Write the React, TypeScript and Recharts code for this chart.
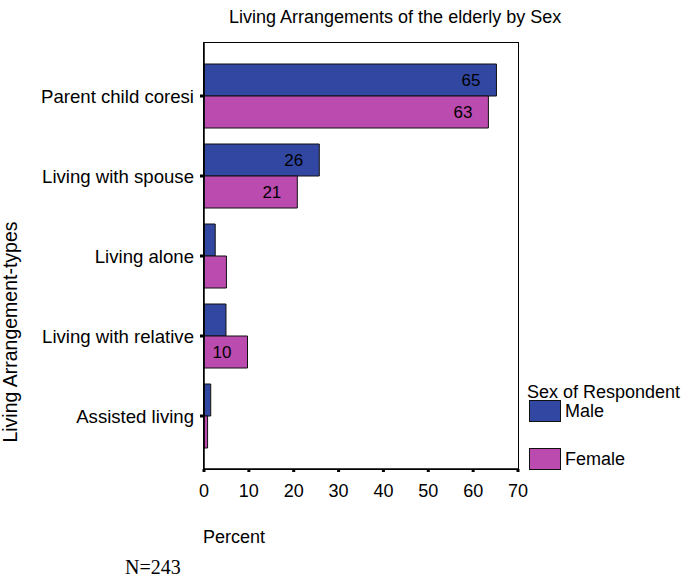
import { BarChart, Bar, XAxis, YAxis, LabelList, Label } from "recharts";

// living arrangements of the elderly, percent by sex
const categories = [
  "Parent child coresi",
  "Living with spouse",
  "Living alone",
  "Living with relative",
  "Assisted living",
];
const maleValues = [65.2, 25.7, 2.5, 4.9, 1.5];
const femaleValues = [63.4, 20.8, 5.0, 9.7, 0.8];
const maleLabels = ["65", "26", "", "", ""];
const femaleLabels = ["63", "21", "", "10", ""];
const percentTicks = [0, 10, 20, 30, 40, 50, 60, 70];

const MALE = "#3147a1";
const FEMALE = "#bb4bae";
const FONT = "'Liberation Sans', Arial, sans-serif";

const data = categories.map((name, i) => ({
  name,
  male: maleValues[i],
  female: femaleValues[i],
  maleLabel: maleLabels[i],
  femaleLabel: femaleLabels[i],
}));

export default function App() {
  return (
    <div style={{ position: "absolute", left: 0, top: 0, width: 686, height: 581, fontFamily: FONT }}>
      <div
        style={{
          position: "absolute",
          left: 229,
          top: 7,
          fontSize: 18,
          color: "#000",
          whiteSpace: "nowrap",
        }}
      >
        Living Arrangements of the elderly by Sex
      </div>

      <BarChart
        width={686}
        height={581}
        data={data}
        layout="vertical"
        margin={{ top: 43, right: 168, bottom: 82, left: 0 }}
        barCategoryGap="10%"
        barGap={0}
        style={{ fontFamily: FONT }}
      >
        <XAxis
          type="number"
          domain={[0, 70]}
          ticks={percentTicks}
          height={30}
          axisLine={{ stroke: "#000", strokeWidth: 1.5 }}
          tickLine={{ stroke: "#000", strokeWidth: 3 }}
          tickSize={3}
          tickMargin={12}
          tick={{ fill: "#000", fontSize: 18 }}
        >
          <Label
            content={() => (
              <text x={203} y={543} fontSize={18} fill="#000" fontFamily={FONT}>
                Percent
              </text>
            )}
          />
        </XAxis>
        <YAxis
          type="category"
          dataKey="name"
          width={204}
          padding={{ top: 13, bottom: 13 }}
          axisLine={{ stroke: "#000", strokeWidth: 1.5 }}
          tickLine={{ stroke: "#000", strokeWidth: 3 }}
          tickSize={4}
          tickMargin={6}
          tick={{ fill: "#000", fontSize: 18.6 }}
        >
          <Label
            content={() => (
              <text
                x={17}
                y={332}
                transform="rotate(-90 17 332)"
                textAnchor="middle"
                fontSize={19.5}
                fill="#000"
                fontFamily={FONT}
              >
                Living Arrangement-types
              </text>
            )}
          />
        </YAxis>
        <Bar dataKey="male" name="Male" fill={MALE} stroke="#111" strokeWidth={1} isAnimationActive={false}>
          <LabelList dataKey="maleLabel" position="insideRight" offset={16} fill="#000" fontSize={17} />
        </Bar>
        <Bar dataKey="female" name="Female" fill={FEMALE} stroke="#111" strokeWidth={1} isAnimationActive={false}>
          <LabelList dataKey="femaleLabel" position="insideRight" offset={16} fill="#000" fontSize={17} />
        </Bar>
      </BarChart>

      {/* plot frame (top and right edges) */}
      <div
        style={{
          position: "absolute",
          left: 203,
          top: 42,
          width: 314,
          height: 426,
          border: "1.5px solid #000",
          pointerEvents: "none",
        }}
      />

      {/* legend */}
      <div style={{ position: "absolute", left: 527, top: 382, fontSize: 18, color: "#000", whiteSpace: "nowrap" }}>
        Sex of Respondent
      </div>
      {[
        { label: "Male", color: MALE, top: 400 },
        { label: "Female", color: FEMALE, top: 448 },
      ].map((item) => (
        <div key={item.label} style={{ position: "absolute", left: 529, top: item.top, display: "flex", alignItems: "center" }}>
          <div style={{ width: 30, height: 20, background: item.color, border: "1px solid #111" }} />
          <span style={{ marginLeft: 4, fontSize: 18, color: "#000" }}>{item.label}</span>
        </div>
      ))}

      <div
        style={{
          position: "absolute",
          left: 125,
          top: 556,
          fontSize: 20,
          fontFamily: "'Liberation Serif', 'Times New Roman', serif",
          color: "#000",
        }}
      >
        N=243
      </div>
    </div>
  );
}
